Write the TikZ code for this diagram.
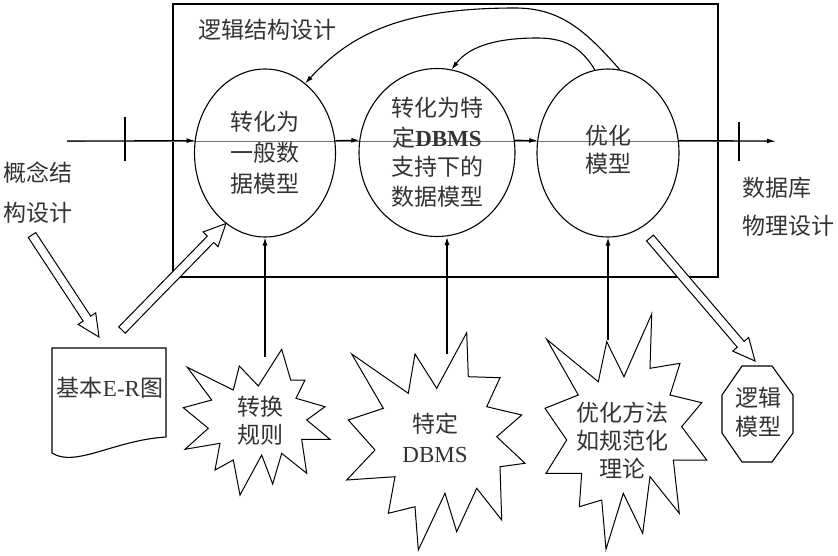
\documentclass[tikz,border=0pt]{standalone}
\usepackage{fontspec}
\setmainfont{Liberation Serif}
\newfontfamily\cjk{Noto Sans CJK SC}
\usetikzlibrary{arrows.meta,calc,shapes.geometric}
\begin{document}
\begin{tikzpicture}[x=1pt,y=-1pt,
  lw/.style={line width=1.1pt},
  ell/.style={draw, ellipse, lw, inner sep=0pt, align=center, text=black!80},
  lbl/.style={align=center, inner sep=0pt, text=black!80},
  fs/.style={font=\cjk\fontsize{23}{#1}\selectfont},
  arr/.style={lw, -{Latex[length=8pt,width=5pt]}},
  hollow/.style={draw, line width=1pt, fill=white, line join=miter},
  burst/.style={draw, line width=1pt, fill=white, line join=miter}
]
\useasboundingbox (0,0) rectangle (838,555);

% frame
\node[draw, lw, minimum width=545pt, minimum height=273pt, inner sep=0pt] (frame) at (445.5,140.5) {};
\node[lbl, fs=28] (title) at (267,30) {逻辑结构设计};

% thin through line
\coordinate (lin) at (67,141);
\coordinate (lout) at (775,141);
\draw[line width=0.5pt, black!55] (lin) -- (lout);

% ellipses
\node[ell, fs=31, minimum width=141pt, minimum height=168pt] (e1) at (265,153) {转化为\\一般数\\据模型};
\node[ell, fs=29.5, minimum width=156pt, minimum height=168pt] (e2) at (437,152.5) {转化为特\\定{\rmfamily\bfseries DBMS}\\支持下的\\数据模型};
\node[ell, fs=28, minimum width=142pt, minimum height=168pt] (e3) at (608,153) {\raisebox{-5pt}{\begin{tabular}{@{}c@{}}优化\\模型\end{tabular}}};

% main flow
\draw[arr] (lin) -- (e1.170);
\draw[arr] (e1.10) -- (e2.171);
\draw[arr] (e2.9) -- (e3.170);
\draw[arr] (e3.10) -- (lout);
\draw[lw] (125,117) -- (125,161);
\draw[lw] (739,122) -- (739,161);

% feedback arcs
\draw[arr] (e3.82) .. controls (585,30) and (560,8) .. (515,8)
  .. controls (400,8) and (350,35) .. (e1.60);
\draw[arr] (e3.99) .. controls (580,45) and (562,38) .. (537,38)
  .. controls (500,38) and (470,45) .. (e2.80);

% side labels
\node[lbl, fs=40, align=left, anchor=west] (concept) at (3,193) {概念结\\构设计};
\node[lbl, fs=38, align=left, anchor=west] (phys) at (742,207) {数据库\\物理设计};

% basic E-R document
\draw[lw, fill=white] (52,453) -- (52,348) -- (166,348) -- (166,437)
  .. controls (115,440) and (75,468) .. (52,453) -- cycle;
\node[lbl, fs=28] (er) at (110,388) {基本{\rmfamily E-R}图};

% starbursts
\draw[burst] (281.7,349.3) -- (290.7,380) -- (305,380) -- (296,398.3) -- (325,406.7) -- (306.7,420) -- (330,439.3) -- (301.7,439.3) -- (306.7,473.3) -- (281.7,453.3) -- (272.7,484) -- (261.7,455) -- (240,495) -- (233.3,460) -- (215,470) -- (220,443.3) -- (185,449.3) -- (208.3,428.3) -- (183.3,407.7) -- (211.7,400) -- (187.3,367.3) -- (233.3,390) -- (239.3,366) -- (258.3,386) -- cycle;
\node[lbl, fs=28] (s1) at (260,421) {转换\\规则};

\draw[burst] (466.7,332.7) -- (468.3,376.7) -- (500,377.7) -- (486.7,406.7) -- (521.7,415) -- (496.7,436.7) -- (525,463.3) -- (500,466.7) -- (501.7,520) -- (476.7,488.3) -- (456.7,531.7) -- (445,493.3) -- (418.3,550) -- (415,506.7) -- (388.3,513.3) -- (395,476.7) -- (346.7,480) -- (375,450) -- (348.3,420) -- (383.3,408.3) -- (351.7,354) -- (408.3,393.3) -- (415,354) -- (436.7,388.3) -- cycle;
\node[lbl, fs=30] (s2) at (435,438) {特定\\{\rmfamily DBMS}};

\draw[burst] (651.7,314) -- (650,368.3) -- (680,363.3) -- (670,395) -- (701.7,402.7) -- (681.7,426.7) -- (706.7,460) -- (673.3,460) -- (679.3,513.3) -- (650,476.7) -- (642.7,533.3) -- (623.3,493.3) -- (606,549.3) -- (601.7,500) -- (579.3,506.7) -- (581.7,473.3) -- (546,473.3) -- (566.7,440) -- (545,408.3) -- (578.3,395) -- (546.7,339.3) -- (598.3,381.7) -- (606.7,341.7) -- (624,376.7) -- cycle;
\node[lbl, fs=28] (s3) at (622,440) {优化方法\\如规范化\\理论};

% octagon
\draw[lw, fill=white] (742,366) -- (772,366) -- (793,395) -- (793,433) -- (772,462) -- (742,462) -- (722,433) -- (722,395) -- cycle;
\node[lbl, fs=29] (logic) at (758,412.5) {逻辑\\模型};

% vertical inputs
\coordinate (v1) at (265,357);
\coordinate (v2) at (447,354);
\coordinate (v3) at (608,340);
\draw[arr] (v1) -- (e1.south);
\draw[arr] (v2) -- (v2 |- e2.south);
\draw[arr] (v3) -- (e3.south);

% hollow arrows
\coordinate (h1s) at (32,235);
\coordinate (h1e) at (99,337);
\coordinate (h2s) at (122,330);
\coordinate (h2e) at (e1.241);
\coordinate (h3s) at (650,238);
\coordinate (h3e) at (755,361);
\foreach \h in {h1,h2,h3}{
  \coordinate (\h p) at ($(\h e)!22pt!(\h s)$);
  \draw[hollow] ($(\h s)!4.5pt!90:(\h e)$) -- ($(\h p)!4.5pt!-90:(\h s)$) -- ($(\h p)!10.5pt!-90:(\h s)$) -- (\h e) -- ($(\h p)!10.5pt!90:(\h s)$) -- ($(\h p)!4.5pt!90:(\h s)$) -- ($(\h s)!4.5pt!-90:(\h e)$) -- cycle;
}
\end{tikzpicture}
\end{document}
